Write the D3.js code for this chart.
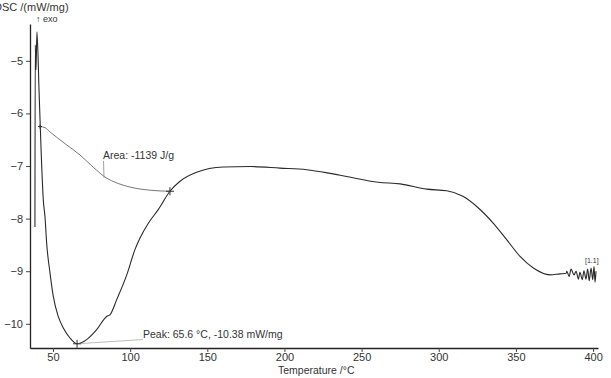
<!DOCTYPE html>
<html><head><meta charset="utf-8">
<script src="https://cdn.jsdelivr.net/npm/d3@7"></script>
<style>
html,body{margin:0;padding:0;background:#fff;}
svg text{font-family:"Liberation Sans",Arial,sans-serif;fill:#333;}
</style></head>
<body>
<svg id="c" width="611" height="378"></svg>
<script>
// ---- data ----
const dscT = [38.3,38.5,39.0,39.6,41.0,42.3,43.7,44.8,45.9,48.1,50.2,53.4,56.7,61.0,65.6,71.8,78.3,84.8,86.9,91.3,97.8,103.1,106.4,112.0,118.2,125.8,132.3,143.1,160.4,177.7,197.1,214.4,229.5,240.3,260.8,275.0,292.2,305.2,316.0,324.6,335.4,344.0,352.7,361.3,372.1,378.6,382.5,383.0,384.5,385.7,387.7,389.0,390.5,391.5,393.0,394.1,395.4,396.5,397.5,398.7,399.8,400.6,401.3,401.9];
const dscV = [-8.16,-4.70,-5.17,-4.45,-5.6,-6.7,-7.64,-7.96,-8.47,-9.04,-9.48,-9.86,-10.08,-10.27,-10.38,-10.30,-10.11,-9.86,-9.83,-9.54,-9.07,-8.59,-8.37,-8.08,-7.83,-7.48,-7.29,-7.12,-7.02,-7.01,-7.04,-7.07,-7.14,-7.20,-7.31,-7.34,-7.44,-7.47,-7.58,-7.77,-8.09,-8.40,-8.72,-8.94,-9.07,-9.05,-9.04,-9.0,-9.10,-8.96,-9.07,-9.0,-9.15,-9.02,-9.16,-8.99,-9.15,-8.96,-9.18,-8.94,-9.16,-8.91,-9.21,-9.0];
const baseT = [41.6,44.8,48.0,58.0,67.5,76.0,83.7,92.0,99.9,112.9,125.8];
const baseV = [-6.25,-6.27,-6.35,-6.58,-6.79,-7.02,-7.21,-7.33,-7.40,-7.46,-7.48];
const xTicks = [50,100,150,200,250,300,350,400];
const yTicks = [-5,-6,-7,-8,-9,-10];
const peak = {t:65.6, v:-10.38};
const areaEnd = {t:125.8, v:-7.48};
const peakLabel = "Peak: 65.6 °C, -10.38 mW/mg";
const areaLabel = "Area: -1139 J/g";

// ---- chart ----
const svg = d3.select("#c");
const x = d3.scaleLinear().domain([35.1,403.2]).range([30,598]);
const y = d3.scaleLinear().domain([-10.46,-4.30]).range([348,24]);
const fmt = d3.format("d");

const gx = svg.append("g").attr("transform","translate(0,348)");
gx.call(d3.axisBottom(x).tickValues(d3.range(40,401,10)).tickSize(2).tickSizeOuter(0).tickFormat(""));
gx.call(d3.axisBottom(x).tickValues(xTicks).tickSize(4).tickSizeOuter(0).tickFormat(fmt));
const gy = svg.append("g").attr("transform","translate(30,0)");
gy.call(d3.axisLeft(y).tickValues(d3.range(-10.4,-4.35,0.2)).tickSize(2).tickSizeOuter(0).tickFormat(""));
gy.call(d3.axisLeft(y).tickValues(yTicks).tickSize(4).tickSizeOuter(0).tickFormat(fmt));
svg.selectAll(".domain").attr("stroke","#222").attr("stroke-width",1.3);
svg.selectAll(".tick line").attr("stroke","#444");
svg.selectAll(".tick text").attr("font-size",11).attr("fill","#333").attr("font-family","Liberation Sans, Arial, sans-serif");
gx.selectAll(".tick text").attr("y",13).attr("dy",0);
gy.selectAll(".tick text").attr("x",-7);

// baseline
const bl = baseT.map((t,i)=>[t,baseV[i]]);
svg.append("path").datum(bl)
  .attr("d", d3.line().x(d=>x(d[0])).y(d=>y(d[1])).curve(d3.curveMonotoneX))
  .attr("fill","none").attr("stroke","#555").attr("stroke-width",0.8);

// main curve
const pts = dscT.map((t,i)=>[t,dscV[i]]);
svg.append("path").datum(pts)
  .attr("d", d3.line().x(d=>x(d[0])).y(d=>y(d[1])).curve(d3.curveMonotoneX))
  .attr("fill","none").attr("stroke","#2a2a2a").attr("stroke-width",1.1);

// leader lines
svg.append("line").attr("x1",x(peak.t)).attr("y1",y(peak.v)).attr("x2",143).attr("y2",339.5)
  .attr("stroke","#aaa").attr("stroke-width",0.8);
svg.append("line").attr("x1",103.5).attr("y1",161).attr("x2",104).attr("y2",y(-7.22))
  .attr("stroke","#888").attr("stroke-width",0.8);

// plus markers
function plus(t,v,s){
  const cx=x(t), cy=y(v);
  svg.append("path").attr("d",`M${cx-s},${cy}H${cx+s}M${cx},${cy-s}V${cy+s}`)
    .attr("stroke","#333").attr("stroke-width",1);
}
plus(peak.t,peak.v,4);
plus(areaEnd.t,areaEnd.v,4);
plus(baseT[0],baseV[0],2);

// texts
svg.append("text").attr("x",143).attr("y",338).attr("font-size",10.5).text(peakLabel);
svg.append("text").attr("x",103).attr("y",159).attr("font-size",10.5).text(areaLabel);
svg.append("text").attr("x",-6).attr("y",11).attr("font-size",11).text("DSC /(mW/mg)");
svg.append("text").attr("x",36).attr("y",22).attr("font-size",9).text("↑ exo");
svg.append("text").attr("x",278).attr("y",374).attr("font-size",10.5).text("Temperature /°C");
svg.append("text").attr("x",585).attr("y",263).attr("font-size",7).text("[1.1]");
</script>
</body></html>
